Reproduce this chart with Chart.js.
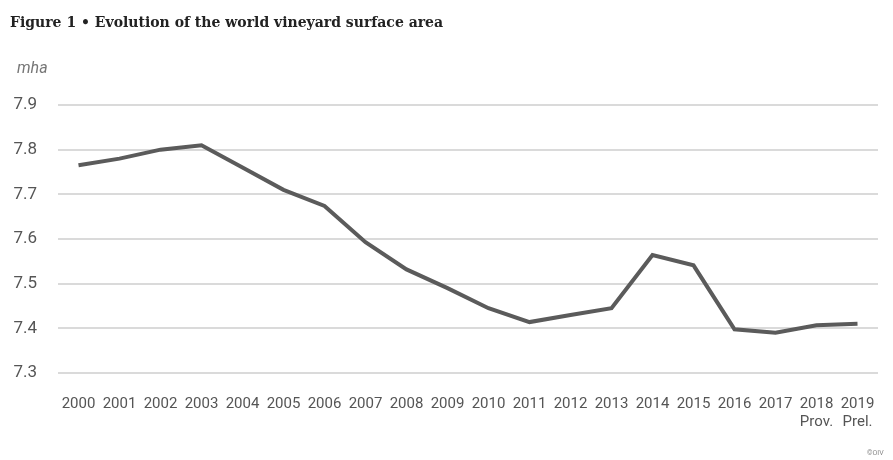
<!DOCTYPE html>
<html>
<head>
<meta charset="utf-8">
<script src="https://cdn.jsdelivr.net/npm/chart.js@4.4.1/dist/chart.umd.min.js"></script>
<style>
  html, body { margin: 0; padding: 0; background: #fff; }
  #wrap { position: relative; width: 893px; height: 460px; }
</style>
</head>
<body>
<div id="wrap"><canvas id="chartSurface" width="893" height="460"></canvas></div>
<script>
// ── Data ────────────────────────────────────────────────────────────────
const years   = ['2000','2001','2002','2003','2004','2005','2006','2007','2008','2009',
                 '2010','2011','2012','2013','2014','2015','2016','2017','2018','2019'];
const notes   = ['','','','','','','','','','','','','','','','','','','Prov.','Prel.'];
const surface = [7.765, 7.78, 7.80, 7.81, 7.76, 7.71, 7.674, 7.593, 7.532, 7.49,
                 7.445, 7.414, 7.43, 7.445, 7.564, 7.541, 7.398, 7.39, 7.407, 7.41];
const yTicks  = [7.3, 7.4, 7.5, 7.6, 7.7, 7.8, 7.9];

const labels = years.map((y, i) => notes[i] ? [y, notes[i]] : y);
const NARROW = '"Roboto", sans-serif';

// ── Extra texts: title, unit, credit ────────────────────────────────────
const textsPlugin = {
    id: 'texts',
    afterDraw(chart) {
        const c = chart.ctx;
        c.save();
        c.fillStyle = '#222';
        c.font = 'bold 14px "DejaVu Serif", serif';
        c.textBaseline = 'alphabetic';
        c.fillText('Figure 1 \u2022 Evolution of the world vineyard surface area', 10, 27);
        c.fillStyle = '#777';
        c.font = 'italic 16px ' + NARROW;
        c.fillText('mha', 17, 73);
        c.font = '7px ' + NARROW;
        c.fillStyle = '#888';
        c.fillText('\u00A9OIV', 867, 455);
        c.restore();
    }
};

new Chart(document.getElementById('chartSurface'), {
    type: 'line',
    data: {
        labels: labels,
        datasets: [{
            label: 'mha',
            data: surface,
            borderColor: '#5b5b5b',
            borderWidth: 4,
            tension: 0,
            pointRadius: 0,
            fill: false,
        }]
    },
    options: {
        responsive: false,
        animation: false,
        layout: { padding: { top: 105, left: 10, right: 15, bottom: 15 } },
        plugins: { legend: { display: false }, tooltip: { enabled: false } },
        scales: {
            x: {
                offset: true,
                grid:   { display: false },
                border: { display: false },
                ticks:  { color: '#555', font: { family: NARROW, size: 15 }, padding: 14, maxRotation: 0, autoSkip: false }
            },
            y: {
                min: 7.3,
                max: 7.9,
                afterBuildTicks: axis => { axis.ticks = yTicks.map(v => ({ value: v })); },
                afterFit: axis => { axis.width = 48; },
                border: { display: false },
                grid:   { color: '#dadada', lineWidth: 2, drawTicks: false },
                ticks:  { color: '#555', font: { family: NARROW, size: 17 }, padding: 21,
                          callback: v => v.toFixed(1) }
            }
        }
    },
    plugins: [textsPlugin]
});
</script>
</body>
</html>
